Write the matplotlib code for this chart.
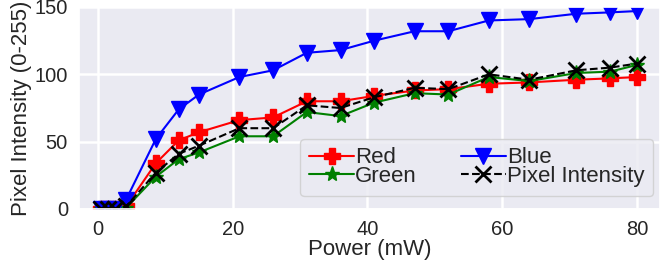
import matplotlib
matplotlib.use('Agg')
import matplotlib.pyplot as plt
import seaborn as sns

# 激光功率 (mW) 与各通道像素强度
power = [0.5, 1.5, 2.5, 4.2, 8.6, 12, 15, 21, 26, 31, 36, 41, 47, 52, 58, 64, 71, 76, 80]
red = [0, 0, 0, 2, 34, 51, 57, 66, 68, 80, 80, 84, 88, 89, 93, 94, 96, 97, 98]
green = [0, 0, 0, 1, 24, 37, 42, 54, 54, 72, 69, 79, 86, 85, 98, 95, 101, 102, 107]
blue = [0, 0, 0, 7, 52, 74, 85, 98, 103, 116, 118, 125, 132, 132, 140, 141, 145, 146, 147]
pixel = [0, 0, 0, 2, 27, 41, 47, 60, 60, 77, 75, 83, 90, 89, 100, 96, 103, 105, 108]

sns.set_theme(style='darkgrid')
plt.rcParams['font.family'] = ['Liberation Sans', 'DejaVu Sans']

fig = plt.figure(figsize=(6.64, 2.63), dpi=100)
ax = fig.add_axes([79/664, 54/263, 581/664, 202/263])

ax.plot(power, red, color='red', marker='P', ms=11, lw=1.5, label='Red')
ax.plot(power, green, color='green', marker='*', ms=11, lw=1.5, label='Green')
ax.plot(power, blue, color='blue', marker='v', ms=11, lw=1.5, label='Blue')
ax.plot(power, pixel, color='black', ls='--', marker='x', ms=11, mew=2, lw=1.5,
        label='Pixel Intensity')

ax.set_xlim(-2.8, 83.4)
ax.set_ylim(0, 150)
ax.set_xticks([0, 20, 40, 60, 80])
ax.set_yticks([0, 50, 100, 150])
ax.tick_params(labelsize=14.5, pad=2)
ax.grid(lw=1.8)
ax.set_xlabel('Power (mW)', fontsize=16, labelpad=0)
ax.set_ylabel('Pixel Intensity (0-255)', fontsize=16, labelpad=2)

ax.legend(ncol=2, fontsize=16, loc='lower right', bbox_to_anchor=(0.988, 0.064),
          borderaxespad=0, handletextpad=0.05, labelspacing=-0.1, columnspacing=2.0)

fig.savefig('out.png', dpi=100)
